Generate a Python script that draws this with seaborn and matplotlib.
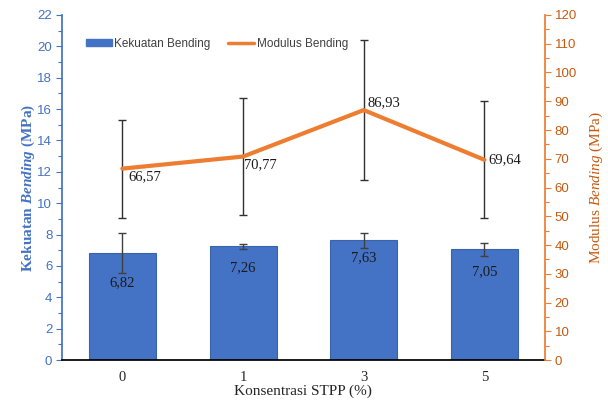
import matplotlib
matplotlib.use("Agg")
import matplotlib.pyplot as plt
from matplotlib.ticker import MultipleLocator
from matplotlib.lines import Line2D
from matplotlib.patches import Patch
import seaborn as sns
import pandas as pd

# data
konsentrasi = ["0", "1", "3", "5"]
kekuatan = [6.82, 7.26, 7.63, 7.05]
kekuatan_err = [1.25, 0.15, 0.50, 0.40]
modulus = [66.57, 70.77, 86.93, 69.64]
modulus_err = [17.0, 20.2, 24.2, 20.3]

BLUE = "#4472C4"
ORANGE = "#ED7D31"
ORANGE_TXT = "#C55A11"
DARK = "#262626"

sns.set_theme(style="white")
plt.rcParams.update({
    "mathtext.fontset": "custom",
    "mathtext.rm": "Liberation Serif",
    "mathtext.it": "Liberation Serif:italic",
    "mathtext.bf": "Liberation Serif:bold",
    "mathtext.bfit": "Liberation Serif:italic:bold",
})

df = pd.DataFrame({"konsentrasi": konsentrasi, "kekuatan": kekuatan, "modulus": modulus})

fig = plt.figure(figsize=(6.08, 4.05), dpi=100)
ax = fig.add_axes([0.102, 0.111, 0.794, 0.852])

sns.barplot(data=df, x="konsentrasi", y="kekuatan", color=BLUE, saturation=1,
            width=0.555, edgecolor="#3A63AE", linewidth=0.8, ax=ax)
ax.errorbar(range(len(konsentrasi)), kekuatan, yerr=kekuatan_err, fmt="none",
            ecolor="#404040", elinewidth=1, capsize=3, capthick=1, zorder=3)

ax.set_ylim(0, 22)
ax.set_xlim(-0.5, 3.5)
ax.yaxis.set_major_locator(MultipleLocator(2))
ax.yaxis.set_minor_locator(MultipleLocator(1))

ax2 = ax.twinx()
sns.pointplot(data=df, x="konsentrasi", y="modulus", color=ORANGE, markers="",
              linestyles="-", linewidth=3, errorbar=None, ax=ax2)
ax2.errorbar(range(len(konsentrasi)), modulus, yerr=modulus_err, fmt="none",
             ecolor="#303030", elinewidth=1, capsize=3, capthick=1, zorder=1)
ax2.set_ylim(0, 120)
ax2.set_xlim(-0.5, 3.5)
ax2.yaxis.set_major_locator(MultipleLocator(10))
ax2.yaxis.set_minor_locator(MultipleLocator(5))

# value labels
bar_off = [-30, -22, -17, -22]
for i, v in enumerate(kekuatan):
    ax.annotate(f"{v:.2f}".replace(".", ","), (i, v), xytext=(0, bar_off[i]),
                textcoords="offset pixels", ha="center", va="center",
                fontsize=10.5, family="Liberation Serif", color="#1a1a1a", zorder=5)
line_off = [(6, -8), (1, -8), (4, 7), (4, 0)]
for i, v in enumerate(modulus):
    dx, dy = line_off[i]
    ax2.annotate(f"{v:.2f}".replace(".", ","), (i, v), xytext=(dx, dy),
                 textcoords="offset pixels", ha="left", va="center",
                 fontsize=10.5, family="Liberation Serif", color="#1a1a1a", zorder=5)

# spines and ticks
for a in (ax, ax2):
    a.spines["top"].set_visible(False)
    a.grid(False)
ax.spines["left"].set_color(BLUE)
ax.spines["right"].set_visible(False)
ax.spines["bottom"].set_color("black")
ax2.spines["right"].set_color(ORANGE)
ax2.spines["left"].set_visible(False)
ax2.spines["bottom"].set_visible(False)

ax.tick_params(axis="y", which="both", left=True, direction="out", colors=BLUE,
               labelsize=9.5, pad=3)
ax.tick_params(axis="y", which="major", length=4, width=0.8)
ax.tick_params(axis="y", which="minor", length=3, width=0.8)
ax.tick_params(axis="x", bottom=False, labelsize=10.5, pad=2, colors="black")
for t in ax.get_yticklabels():
    t.set_family("Liberation Sans")
for t in ax.get_xticklabels():
    t.set_family("Liberation Serif")
    t.set_color(DARK)

ax2.tick_params(axis="y", which="both", right=True, direction="out", colors=ORANGE_TXT,
                labelsize=9.5, pad=3)
ax2.tick_params(axis="y", which="major", length=4, width=0.8, color=ORANGE)
ax2.tick_params(axis="y", which="minor", length=3, width=0.8, color=ORANGE)
for t in ax2.get_yticklabels():
    t.set_family("Liberation Sans")

ax.set_xlabel("Konsentrasi STPP (%)", family="Liberation Serif", fontsize=11,
              color=DARK, labelpad=0)
ax.set_ylabel(r"Kekuatan $\mathbfit{Bending}$ (MPa)", family="Liberation Serif",
              fontsize=11, fontweight="bold", color=BLUE, labelpad=0)
ax2.set_ylabel(r"Modulus $\mathit{Bending}$ (MPa)", family="Liberation Serif",
               fontsize=11, color=ORANGE_TXT, labelpad=8)

handles = [Patch(facecolor=BLUE, edgecolor=BLUE),
           Line2D([0], [0], color=ORANGE, linewidth=2.5)]
leg = ax.legend(handles, ["Kekuatan Bending", "Modulus Bending"], ncol=2,
                loc="upper left", bbox_to_anchor=(0.028, 0.965), frameon=False,
                handlelength=2.2, handleheight=0.5, columnspacing=1.5,
                handletextpad=0.2, prop={"family": "Liberation Sans", "size": 8.5})
for t in leg.get_texts():
    t.set_color("#404040")

fig.savefig("out.png", dpi=100)
